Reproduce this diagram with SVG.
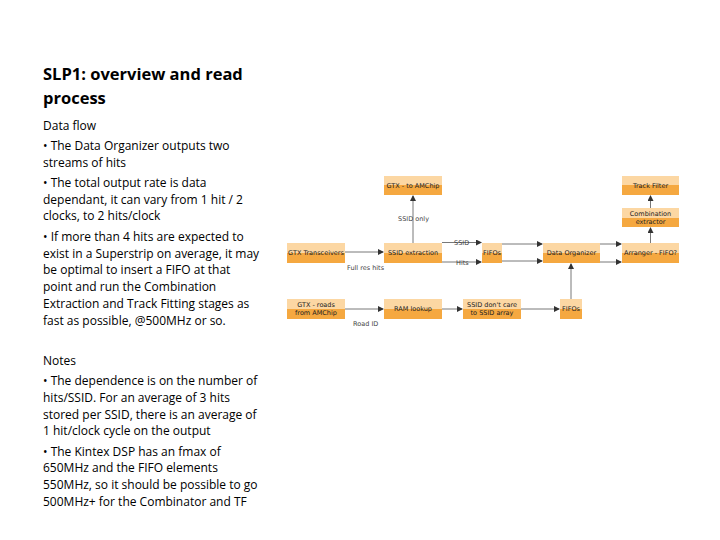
<svg xmlns="http://www.w3.org/2000/svg" width="720" height="540" viewBox="0 0 720 540">
<style>
.t{font-family:"Open Sans","Liberation Sans",sans-serif;fill:#000}
.b{font-size:12px}
.n{font-family:"DejaVu Sans",sans-serif;font-size:6.5px;fill:#222;text-anchor:middle}
.l{font-family:"DejaVu Sans",sans-serif;font-size:6.5px;fill:#444}
.c{stroke:#555;stroke-width:0.8;fill:none;marker-end:url(#a)}
</style>
<defs>
<marker id="a" markerWidth="6" markerHeight="6" refX="5" refY="3" orient="auto" markerUnits="userSpaceOnUse"><path d="M0,0L6,3L0,6z" fill="#333"/></marker>
<linearGradient id="g" x1="0" y1="0" x2="0" y2="1"><stop offset="0.5" stop-color="#fcd7a3"/><stop offset="0.5" stop-color="#f5a840"/></linearGradient>
</defs>
<rect width="720" height="540" fill="#fff"/>
<text class="t" font-size="16.5" font-weight="bold"><tspan x="43" y="80">SLP1: overview and read</tspan><tspan x="43" y="104">process</tspan></text>
<text class="t b">
<tspan x="43" y="130">Data flow</tspan>
<tspan x="43" y="150">• The Data Organizer outputs two</tspan>
<tspan x="43" y="167">streams of hits</tspan>
<tspan x="43" y="187">• The total output rate is data</tspan>
<tspan x="43" y="204">dependant, it can vary from 1 hit / 2</tspan>
<tspan x="43" y="220">clocks, to 2 hits/clock</tspan>
<tspan x="43" y="241">• If more than 4 hits are expected to</tspan>
<tspan x="43" y="258">exist in a Superstrip on average, it may</tspan>
<tspan x="43" y="274">be optimal to insert a FIFO at that</tspan>
<tspan x="43" y="291">point and run the Combination</tspan>
<tspan x="43" y="308">Extraction and Track Fitting stages as</tspan>
<tspan x="43" y="325">fast as possible, @500MHz or so.</tspan>
<tspan x="43" y="365">Notes</tspan>
<tspan x="43" y="385">• The dependence is on the number of</tspan>
<tspan x="43" y="402">hits/SSID. For an average of 3 hits</tspan>
<tspan x="43" y="419">stored per SSID, there is an average of</tspan>
<tspan x="43" y="435">1 hit/clock cycle on the output</tspan>
<tspan x="43" y="456">• The Kintex DSP has an fmax of</tspan>
<tspan x="43" y="472">650MHz and the FIFO elements</tspan>
<tspan x="43" y="489">550MHz, so it should be possible to go</tspan>
<tspan x="43" y="506">500MHz+ for the Combinator and TF</tspan>
</text>
<g id="n1"><rect x="384" y="176" width="58" height="19" fill="url(#g)"/><text class="n" x="413" y="188">GTX - to AMChip</text></g>
<g id="n2"><rect x="622" y="176" width="57" height="19" fill="url(#g)"/><text class="n" x="650.5" y="188">Track Filter</text></g>
<g id="n3"><rect x="622" y="208" width="57" height="19" fill="url(#g)"/><text class="n" x="650.5" y="216">Combination</text><text class="n" x="650.5" y="223.5">extractor</text></g>
<g id="n4"><rect x="287" y="243" width="58" height="20" fill="url(#g)"/><text class="n" x="316" y="255">GTX Transceivers</text></g>
<g id="n5"><rect x="384" y="243" width="58" height="20" fill="url(#g)"/><text class="n" x="413" y="255">SSID extraction</text></g>
<g id="n6"><rect x="482" y="243" width="20" height="20" fill="url(#g)"/><text class="n" x="492" y="255">FIFOs</text></g>
<g id="n7"><rect x="543" y="243" width="57" height="20" fill="url(#g)"/><text class="n" x="571.5" y="255">Data Organizer</text></g>
<g id="n8"><rect x="622" y="243" width="57" height="20" fill="url(#g)"/><text class="n" x="650.5" y="255">Arranger - FIFO?</text></g>
<g id="n9"><rect x="287" y="299" width="58" height="20" fill="url(#g)"/><text class="n" x="316" y="307">GTX - roads</text><text class="n" x="316" y="315">from AMChip</text></g>
<g id="n10"><rect x="384" y="299" width="58" height="20" fill="url(#g)"/><text class="n" x="413" y="311">RAM lookup</text></g>
<g id="n11"><rect x="463" y="299" width="58" height="20" fill="url(#g)"/><text class="n" x="492" y="307">SSID don't care</text><text class="n" x="492" y="315">to SSID array</text></g>
<g id="n12"><rect x="560" y="299" width="22" height="20" fill="url(#g)"/><text class="n" x="571" y="311">FIFOs</text></g>
<g id="connectors">
<path class="c" d="M413,243V196"/>
<path class="c" d="M650.5,208V196"/>
<path class="c" d="M650.5,243V228"/>
<path class="c" d="M345,252H383"/>
<path class="c" d="M442,242.5H481"/>
<path class="c" d="M442,262H481"/>
<path class="c" d="M502,244H542"/>
<path class="c" d="M502,261H542"/>
<path class="c" d="M600,244H621"/>
<path class="c" d="M600,262H621"/>
<path class="c" d="M345,309H383"/>
<path class="c" d="M442,309H462"/>
<path class="c" d="M521,309H559"/>
<path class="c" d="M571,299V264"/>
</g>
<text class="l" x="398" y="221">SSID only</text>
<text class="l" x="454" y="245">SSID</text>
<text class="l" x="456" y="265">Hits</text>
<text class="l" x="347" y="270">Full res hits</text>
<text class="l" x="353" y="326">Road ID</text>
</svg>
